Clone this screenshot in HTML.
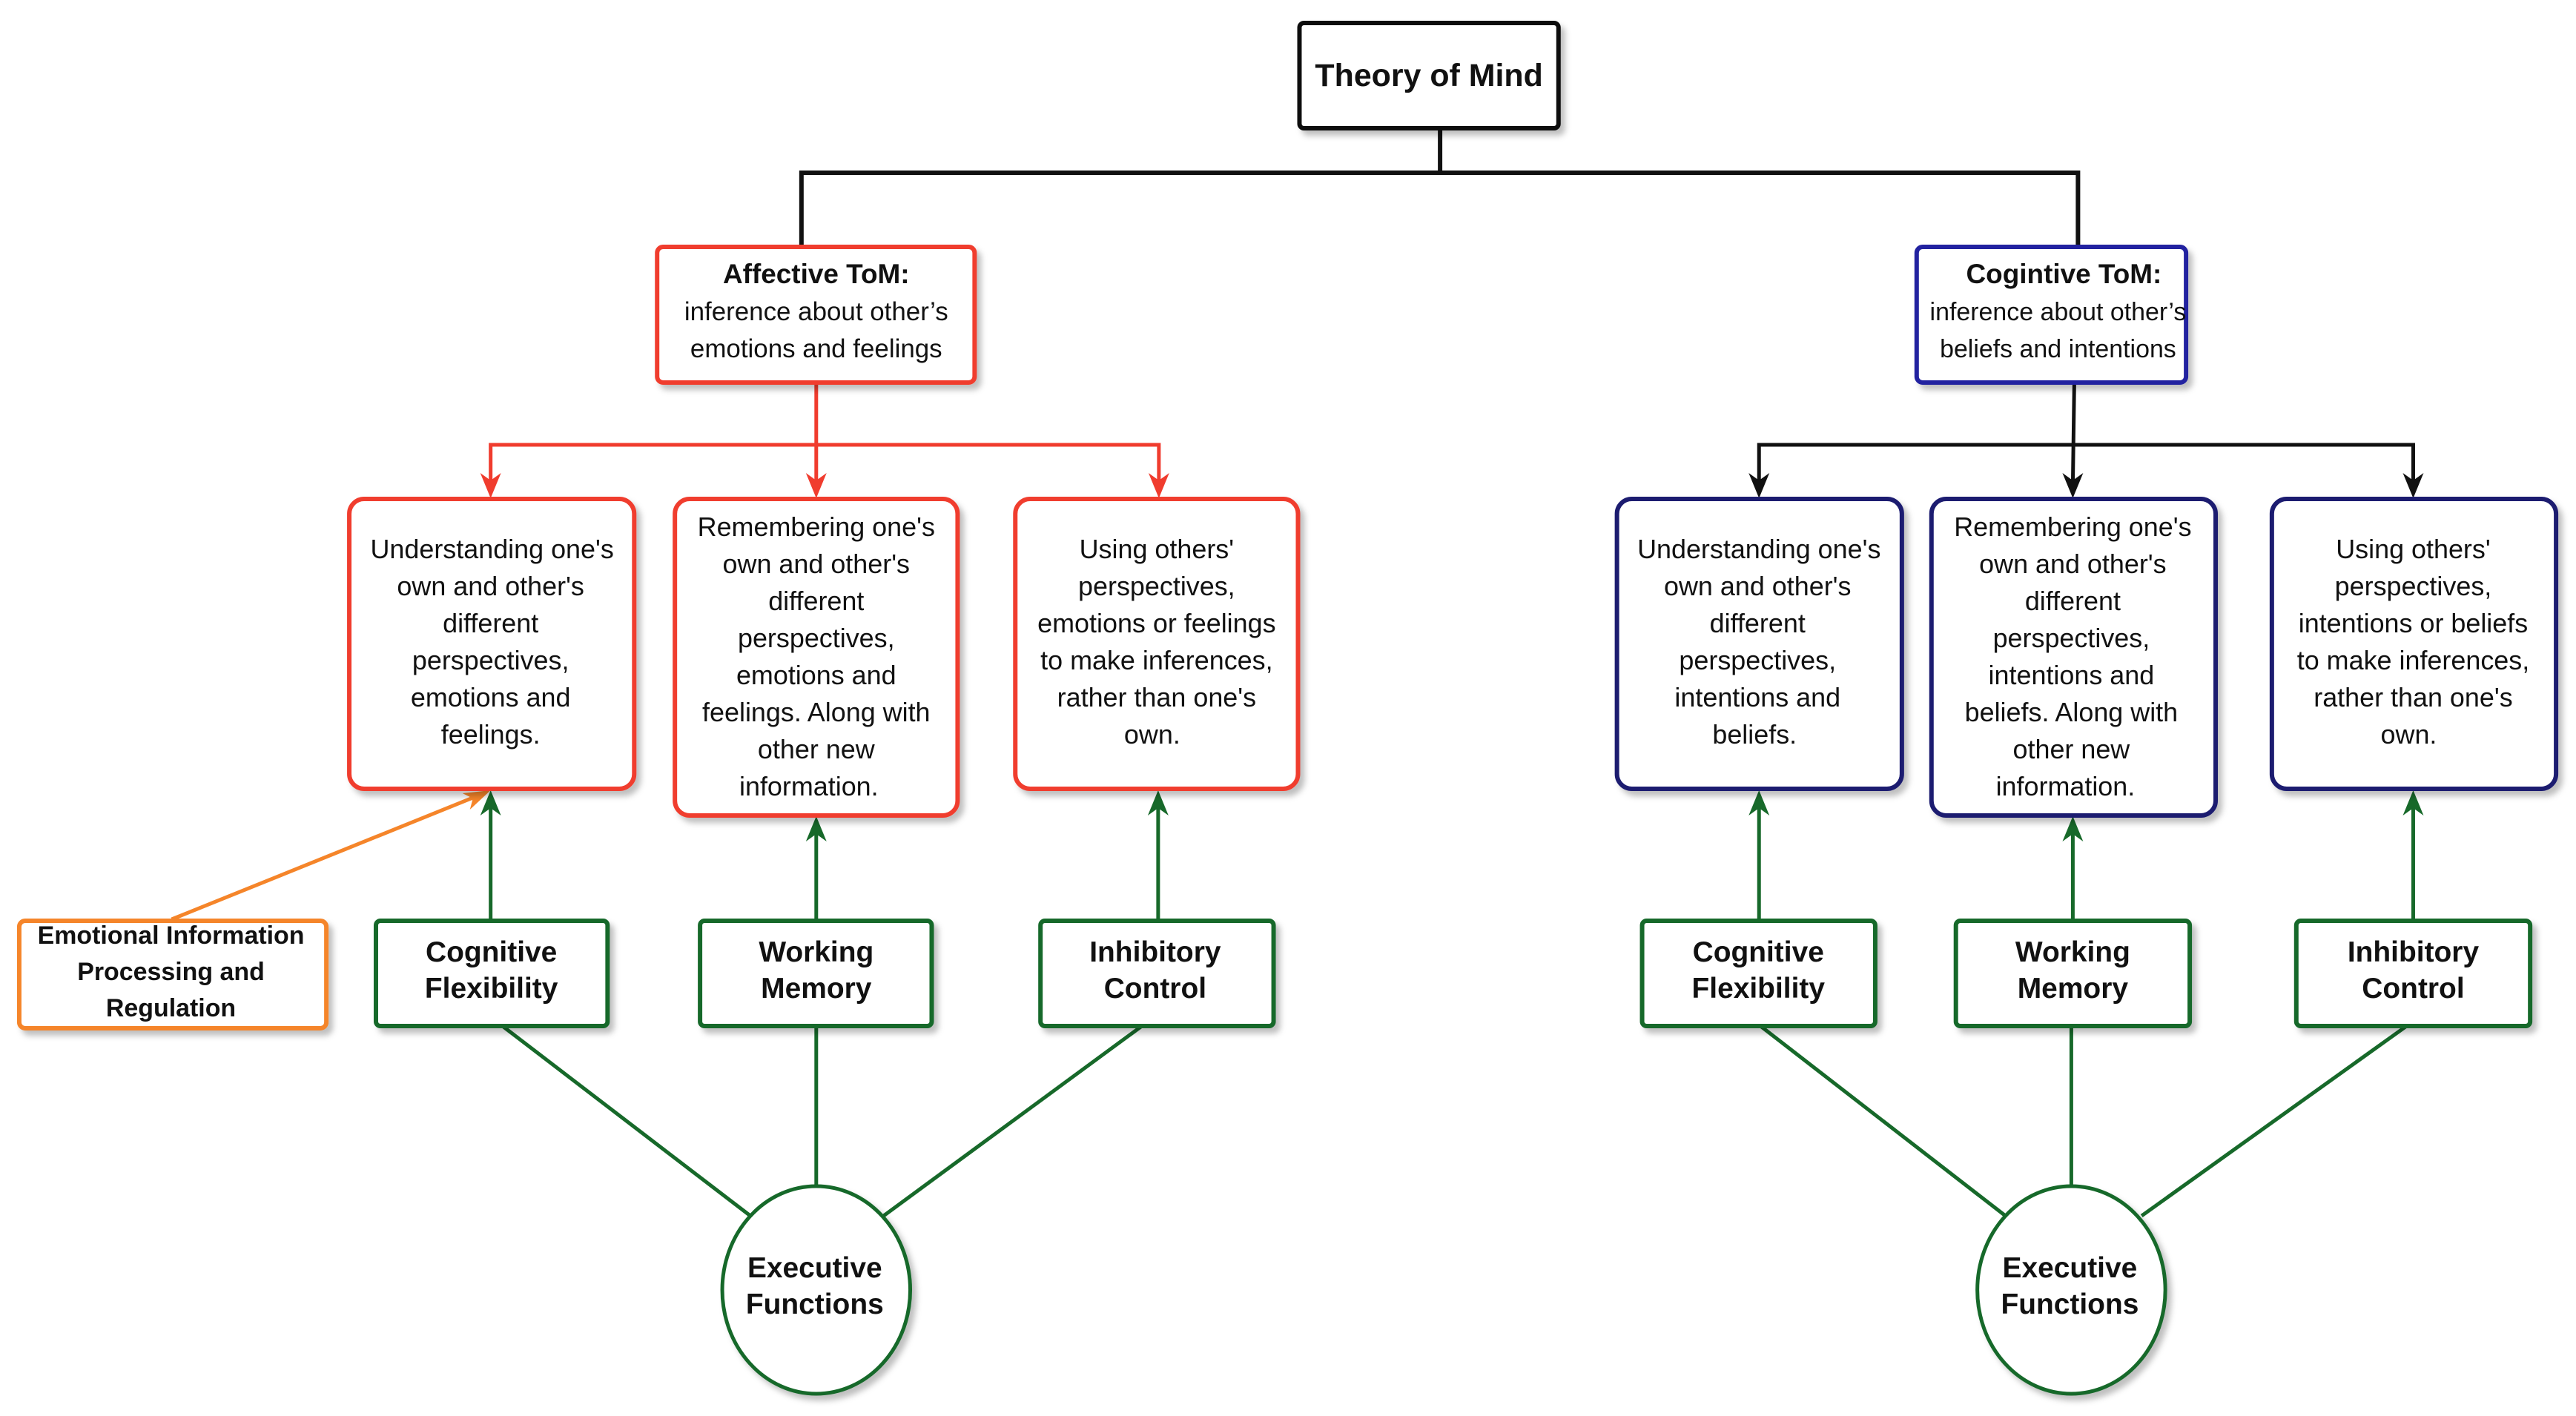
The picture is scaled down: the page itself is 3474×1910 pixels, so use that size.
<!DOCTYPE html>
<html><head><meta charset="utf-8"><style>
html,body{margin:0;padding:0;background:#fff;}
svg{display:block;}
text{font-family:"Liberation Sans",Arial,sans-serif;fill:#111;text-anchor:middle;}
.t{font-size:36px;}
.b{font-weight:bold;}
</style></head><body>
<svg width="3474" height="1910" viewBox="0 0 3474 1910" xmlns="http://www.w3.org/2000/svg">
<defs>
<filter id="sh" x="-10%" y="-10%" width="130%" height="130%"><feDropShadow dx="6" dy="7" stdDeviation="4" flood-color="#000" flood-opacity="0.25"/></filter>
</defs>
<g transform="translate(-1,0) scale(0.998,1)">
<g stroke="#111" stroke-width="6" fill="none">
<path d="M1947 173 V233 M1084 333 V233 H2809 V333"/>
</g>

<g stroke="#f03c2e" stroke-width="5" fill="none">
<path d="M1104 516 V655 M664 655 V600 H1567 V655"/>
</g>
<g fill="#f03c2e">
<path d="M664 672 L650 638 L664 648 L678 638 z"/>
<path d="M1104 672 L1090 638 L1104 648 L1118 638 z"/>
<path d="M1567 672 L1553 638 L1567 648 L1581 638 z"/>
</g>

<g stroke="#111" stroke-width="5" fill="none">
<path d="M2804 516 L2802 655 M2378 655 V600 H3262 V655"/>
</g>
<g fill="#111">
<path d="M2378 672 L2364 638 L2378 648 L2392 638 z"/>
<path d="M2802 672 L2788 638 L2802 648 L2816 638 z"/>
<path d="M3262 672 L3248 638 L3262 648 L3276 638 z"/>
</g>

<g stroke="#17692a" stroke-width="5" fill="none">
<path d="M664 1242 V1085 M1104 1242 V1120 M1566 1242 V1085"/>
<path d="M2378 1242 V1085 M2802 1242 V1120 M3262 1242 V1085"/>
<path d="M680 1384 L1015 1640 M1104 1384 V1600 M1544 1384 L1195 1640"/>
<path d="M2380 1384 L2711 1640 M2800 1384 V1600 M3253 1384 L2895 1640"/>
</g>
<g fill="#17692a">
<path d="M664 1066 L650 1100 L664 1090 L678 1100 z"/>
<path d="M1104 1101 L1090 1135 L1104 1125 L1118 1135 z"/>
<path d="M1566 1066 L1552 1100 L1566 1090 L1580 1100 z"/>
<path d="M2378 1066 L2364 1100 L2378 1090 L2392 1100 z"/>
<path d="M2802 1101 L2788 1135 L2802 1125 L2816 1135 z"/>
<path d="M3262 1066 L3248 1100 L3262 1090 L3276 1100 z"/>
</g>

<path d="M233 1240 L650 1072" stroke="#f5852a" stroke-width="5" fill="none"/>
<path d="M664 1066 L626 1070 L640 1077 L636 1092 z" fill="#f5852a"/>

<g filter="url(#sh)" fill="#fff">
<rect x="1757" y="31" width="350" height="142" rx="6" stroke="#111" stroke-width="6"/>
<rect x="889" y="333" width="429" height="183" rx="8" stroke="#f03c2e" stroke-width="6"/>
<rect x="2591" y="333" width="364" height="183" rx="8" stroke="#2424a0" stroke-width="6"/>

<rect x="473" y="673" width="385" height="391" rx="20" stroke="#f03c2e" stroke-width="6"/>
<rect x="913" y="673" width="382" height="427" rx="20" stroke="#f03c2e" stroke-width="6"/>
<rect x="1373" y="673" width="382" height="391" rx="20" stroke="#f03c2e" stroke-width="6"/>

<rect x="2186" y="673" width="385" height="391" rx="20" stroke="#1a1a70" stroke-width="6"/>
<rect x="2611" y="673" width="384" height="427" rx="20" stroke="#1a1a70" stroke-width="6"/>
<rect x="3071" y="673" width="384" height="391" rx="20" stroke="#1a1a70" stroke-width="6"/>

<rect x="27" y="1242" width="415" height="145" rx="8" stroke="#f5852a" stroke-width="6"/>
<rect x="509" y="1242" width="313" height="142" rx="6" stroke="#17692a" stroke-width="6"/>
<rect x="947" y="1242" width="313" height="142" rx="6" stroke="#17692a" stroke-width="6"/>
<rect x="1407" y="1242" width="315" height="142" rx="6" stroke="#17692a" stroke-width="6"/>
<rect x="2220" y="1242" width="315" height="142" rx="6" stroke="#17692a" stroke-width="6"/>
<rect x="2644" y="1242" width="316" height="142" rx="6" stroke="#17692a" stroke-width="6"/>
<rect x="3104" y="1242" width="316" height="142" rx="6" stroke="#17692a" stroke-width="6"/>

<ellipse cx="1104" cy="1740" rx="127" ry="140" stroke="#17692a" stroke-width="5"/>
<ellipse cx="2800" cy="1740" rx="127" ry="140" stroke="#17692a" stroke-width="5"/>
</g>

<text x="1932" y="116" class="b" font-size="43">Theory of Mind</text>

<text x="1104" y="382" class="b" font-size="37">Affective ToM:</text>
<text x="1104" y="432" font-size="35">inference about other’s</text>
<text x="1104" y="482" font-size="35">emotions and feelings</text>

<text x="2790" y="382" class="b" font-size="37">Cogintive ToM:</text>
<text x="2782" y="432" font-size="34">inference about other’s</text>
<text x="2782" y="482" font-size="34">beliefs and intentions</text>

<text x="666" y="753" class="t">Understanding one's</text>
<text x="664" y="803" class="t">own and other's</text>
<text x="664" y="853" class="t">different</text>
<text x="664" y="903" class="t">perspectives,</text>
<text x="664" y="953" class="t">emotions and</text>
<text x="664" y="1003" class="t">feelings.</text>

<text x="1104" y="723" class="t">Remembering one's</text>
<text x="1104" y="773" class="t">own and other's</text>
<text x="1104" y="823" class="t">different</text>
<text x="1104" y="873" class="t">perspectives,</text>
<text x="1104" y="923" class="t">emotions and</text>
<text x="1104" y="973" class="t">feelings. Along with</text>
<text x="1104" y="1023" class="t">other new</text>
<text x="1094" y="1073" class="t">information.</text>

<text x="1564" y="753" class="t">Using others'</text>
<text x="1564" y="803" class="t">perspectives,</text>
<text x="1564" y="853" class="t">emotions or feelings</text>
<text x="1564" y="903" class="t">to make inferences,</text>
<text x="1564" y="953" class="t">rather than one's</text>
<text x="1558" y="1003" class="t">own.</text>

<text x="2378" y="753" class="t">Understanding one's</text>
<text x="2376" y="803" class="t">own and other's</text>
<text x="2376" y="853" class="t">different</text>
<text x="2376" y="903" class="t">perspectives,</text>
<text x="2376" y="953" class="t">intentions and</text>
<text x="2372" y="1003" class="t">beliefs.</text>

<text x="2802" y="723" class="t">Remembering one's</text>
<text x="2802" y="773" class="t">own and other's</text>
<text x="2802" y="823" class="t">different</text>
<text x="2800" y="873" class="t">perspectives,</text>
<text x="2800" y="923" class="t">intentions and</text>
<text x="2800" y="973" class="t">beliefs. Along with</text>
<text x="2800" y="1023" class="t">other new</text>
<text x="2792" y="1073" class="t">information.</text>

<text x="3262" y="753" class="t">Using others'</text>
<text x="3262" y="803" class="t">perspectives,</text>
<text x="3262" y="853" class="t">intentions or beliefs</text>
<text x="3262" y="903" class="t">to make inferences,</text>
<text x="3262" y="953" class="t">rather than one's</text>
<text x="3256" y="1003" class="t">own.</text>

<text x="232" y="1273" class="b" font-size="34">Emotional Information</text>
<text x="232" y="1322" class="b" font-size="34">Processing and</text>
<text x="232" y="1371" class="b" font-size="34">Regulation</text>

<g class="b" font-size="39">
<text x="665" y="1297">Cognitive</text><text x="665" y="1346">Flexibility</text>
<text x="1104" y="1297">Working</text><text x="1104" y="1346">Memory</text>
<text x="1562" y="1297">Inhibitory</text><text x="1562" y="1346">Control</text>
<text x="2377" y="1297">Cognitive</text><text x="2377" y="1346">Flexibility</text>
<text x="2802" y="1297">Working</text><text x="2802" y="1346">Memory</text>
<text x="3262" y="1297">Inhibitory</text><text x="3262" y="1346">Control</text>
<text x="1102" y="1723">Executive</text><text x="1102" y="1772">Functions</text>
<text x="2798" y="1723">Executive</text><text x="2798" y="1772">Functions</text>
</g>
</g>
</svg>
</body></html>
